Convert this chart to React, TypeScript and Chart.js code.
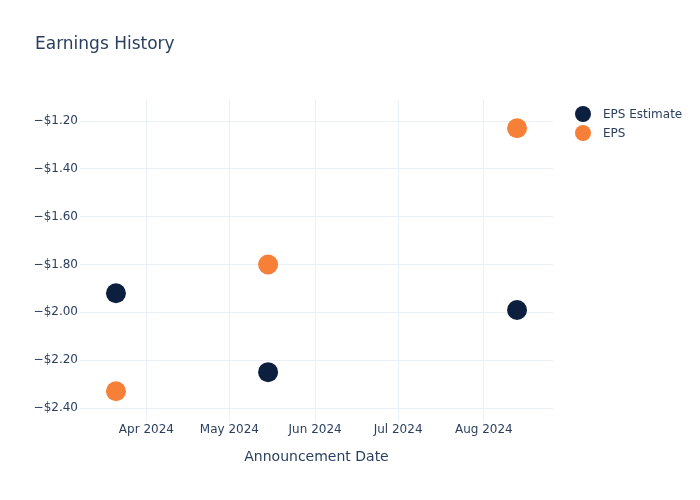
import React, { useEffect, useRef } from "react";
import { Chart, registerables } from "chart.js";

Chart.register(...registerables);

const announcementDates = ["2024-03-21", "2024-05-15", "2024-08-13"];
const epsEstimate = [-1.92, -2.25, -1.99];
const epsActual = [-2.33, -1.8, -1.23];
const monthTicks = ["2024-04-01", "2024-05-01", "2024-06-01", "2024-07-01", "2024-08-01"];
const yTicks = [-2.4, -2.2, -2.0, -1.8, -1.6, -1.4, -1.2];
const monthNames = ["Jan", "Feb", "Mar", "Apr", "May", "Jun", "Jul", "Aug", "Sep", "Oct", "Nov", "Dec"];
const seriesNames = ["EPS Estimate", "EPS"];
const seriesColors = ["#0c1f3f", "#f68038"];

const ts = (s: string) => Date.parse(s + "T00:00:00Z");
const TEXT = "#2a3f5f";
const FONT = "'DejaVu Sans', Verdana, sans-serif";

export default function App() {
  const ref = useRef<HTMLCanvasElement | null>(null);
  useEffect(() => {
    document.body.style.margin = "0";
    const overlay = {
      id: "overlay",
      afterDraw(chart: any) {
        const ctx = chart.ctx;
        ctx.save();
        ctx.fillStyle = TEXT;
        ctx.font = `17px ${FONT}`;
        ctx.textAlign = "left";
        ctx.textBaseline = "middle";
        ctx.fillText("Earnings History", 35, 45);
        ctx.font = `12px ${FONT}`;
        seriesNames.forEach((n, i) => {
          const y = 114 + i * 19;
          ctx.beginPath();
          ctx.arc(583, y, 8, 0, Math.PI * 2);
          ctx.fillStyle = seriesColors[i];
          ctx.fill();
          ctx.fillStyle = TEXT;
          ctx.fillText(n, 603, y + 1);
        });
        ctx.restore();
      },
    };
    const chart = new Chart(ref.current!, {
      type: "scatter",
      data: {
        datasets: [
          {
            label: seriesNames[0],
            data: announcementDates.map((d, i) => ({ x: ts(d), y: epsEstimate[i] })),
            backgroundColor: seriesColors[0],
            borderColor: seriesColors[0],
            borderWidth: 0,
            pointRadius: 10,
            pointHoverRadius: 10,
          },
          {
            label: seriesNames[1],
            data: announcementDates.map((d, i) => ({ x: ts(d), y: epsActual[i] })),
            backgroundColor: seriesColors[1],
            borderColor: seriesColors[1],
            borderWidth: 0,
            pointRadius: 10,
            pointHoverRadius: 10,
          },
        ],
      },
      options: {
        animation: false,
        responsive: false,
        layout: { padding: { top: 100, right: 147, bottom: 0, left: 0 } },
        plugins: { legend: { display: false }, tooltip: { enabled: false } },
        scales: {
          x: {
            type: "linear",
            min: ts("2024-03-08"),
            max: ts("2024-08-26"),
            afterBuildTicks: (s: any) => {
              s.ticks = monthTicks.map((m) => ({ value: ts(m) }));
            },
            afterFit: (s: any) => {
              s.height = 78;
            },
            ticks: {
              autoSkip: false,
              maxRotation: 0,
              padding: 1,
              color: TEXT,
              font: { family: FONT, size: 12 },
              callback: (v: any) => {
                const d = new Date(v);
                return `${monthNames[d.getUTCMonth()]} ${d.getUTCFullYear()}`;
              },
            },
            grid: { color: "#ebf0f8", drawTicks: false },
            border: { display: false },
            title: {
              display: true,
              text: "Announcement Date",
              color: TEXT,
              font: { family: FONT, size: 14 },
              padding: { top: 0, bottom: 34 },
            },
          },
          y: {
            type: "linear",
            min: -2.4585,
            max: -1.112,
            afterBuildTicks: (s: any) => {
              s.ticks = yTicks.map((v) => ({ value: v }));
            },
            afterFit: (s: any) => {
              s.width = 80;
            },
            ticks: {
              padding: 2,
              color: TEXT,
              font: { family: FONT, size: 12 },
              callback: (v: any) => "\u2212$" + Math.abs(Number(v)).toFixed(2),
            },
            grid: { color: "#ebf0f8", drawTicks: false },
            border: { display: false },
          },
        },
      },
      plugins: [overlay],
    } as any);
    return () => chart.destroy();
  }, []);
  return (
    <div style={{ position: "absolute", left: 0, top: 0, width: 700, height: 500, background: "#fff" }}>
      <canvas ref={ref} width={700} height={500} style={{ width: 700, height: 500 }} />
    </div>
  );
}
